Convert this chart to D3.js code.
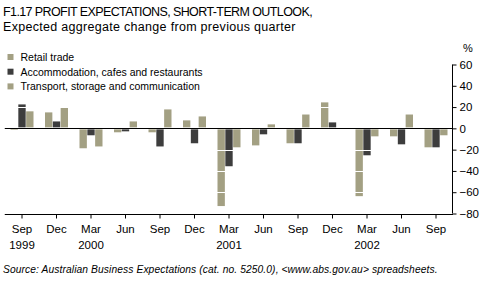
<!DOCTYPE html>
<html><head><meta charset="utf-8">
<script src="https://cdn.jsdelivr.net/npm/d3@7"></script>
<style>body{margin:0;background:#fff}svg{display:block}text{font-family:"Liberation Sans",Arial,sans-serif}</style>
</head><body><svg id="c" width="496" height="284"></svg>
<script>
const quarters = ["Sep","Dec","Mar","Jun","Sep","Dec","Mar","Jun","Sep","Dec","Mar","Jun","Sep"];
const years = ["1999","","2000","","","","2001","","","","2002","",""];
const seriesNames = ["Retail trade","Accommodation, cafes and restaurants","Transport, storage and communication"];
const retail =    [-1.5, 15, -18.7, -3.7, -3.7, 7.5, -73, -16, -14, 24.4, -63.7, -7.5, -17.8];
const accomm =    [22.5, 6.5, -6.5, -2.8, -17, -14, -35.6, -5.6, -14, 5.6, -25.3, -15, -17.8];
const transport = [16, 19.7, -17, 6.5, 17.8, 11.2, -17.8, 3.75, 13, 0, -7.5, 13, -6.5];
const yTicks = [60,40,20,0,-20,-40,-60,-80];
const colors = ["#a3a083","#3d3d3d","#a3a083"];

const svg = d3.select("#c");
const series = [retail, accomm, transport];
const idx = d3.range(quarters.length);
const x0 = d3.scaleBand().domain(idx).range([4.75, 453.25]);
const x1 = d3.scaleBand().domain([0,1,2]).range([-11.5, 11.5]).paddingInner(0.06);
const y = d3.scaleLinear().domain([-80, 60]).range([213.5, 64.5]);
const cx = i => x0(i) + x0.bandwidth()/2;

// bars
series.forEach((vals,k)=>{
  svg.append("g").selectAll("rect").data(vals).join("rect")
    .attr("x",(d,i)=>cx(i)+x1(k))
    .attr("width",x1.bandwidth())
    .attr("y",d=> d>=0 ? y(d) : y(0)+1)
    .attr("height",d=> Math.max(0, d>=0 ? y(0)-y(d)-1 : y(d)-y(0)-1))
    .attr("fill",colors[k]);
});

// white gridlines over bars
svg.append("g").selectAll("line").data([40,20,-20,-40,-60]).join("line")
  .attr("x1",4.75).attr("x2",453).attr("y1",d=>Math.round(y(d))+0.5).attr("y2",d=>Math.round(y(d))+0.5)
  .attr("stroke","#fff").attr("stroke-width",1);

// zero line
svg.append("line").attr("x1",4.75).attr("x2",453).attr("y1",Math.round(y(0))+0.5).attr("y2",Math.round(y(0))+0.5).attr("stroke","#000");

// title
svg.append("text").attr("x",3).attr("y",16).attr("font-size",12.5).attr("letter-spacing",-0.6).text("F1.17 PROFIT EXPECTATIONS, SHORT-TERM OUTLOOK,");
svg.append("text").attr("x",3).attr("y",31).attr("font-size",12.5).attr("letter-spacing",0.3).text("Expected aggregate change from previous quarter");

// legend
seriesNames.forEach((n,k)=>{
  const ly = 57.5 + k*14.7;
  svg.append("rect").attr("x",7.5).attr("y",ly-3.5).attr("width",6).attr("height",6).attr("fill",colors[k]);
  svg.append("text").attr("x",20.5).attr("y",ly+3.5).attr("font-size",10.5).attr("letter-spacing",0).text(n);
});

// right axis
const yAxis = d3.axisRight(y).tickValues(yTicks).tickSize(4).tickPadding(3).tickFormat(d=>d<0?"\u2212"+Math.abs(d):d);
const ga = svg.append("g").attr("transform","translate(452.5,0)").call(yAxis);
ga.select(".domain").attr("d","M0,"+y(60)+"V"+y(-80)).attr("stroke","#000");
ga.selectAll("text").attr("font-size",11.5).attr("font-family","Liberation Sans, Arial, sans-serif").attr("fill","#000");
ga.selectAll("line").attr("stroke","#000");
svg.append("text").attr("x",463).attr("y",52).attr("font-size",11).text("%");

// x axis
const xAxis = d3.axisBottom(x0).tickSize(4).tickFormat("");
const gx = svg.append("g").attr("transform","translate(0,"+(Math.round(y(-80))+0.5)+")").call(xAxis);
gx.select(".domain").attr("d","M4.75,0H453").attr("stroke","#000");
gx.selectAll("line").attr("stroke","#000");
idx.forEach(i=>{
  svg.append("text").attr("x",cx(i)).attr("y",233).attr("text-anchor","middle").attr("font-size",11.5).text(quarters[i]);
  if(years[i]) svg.append("text").attr("x",cx(i)).attr("y",249).attr("text-anchor","middle").attr("font-size",11.5).text(years[i]);
});

// source
svg.append("text").attr("x",3).attr("y",273).attr("font-size",10.25).attr("font-style","italic").attr("letter-spacing",0.1)
  .text("Source: Australian Business Expectations (cat. no. 5250.0), <www.abs.gov.au> spreadsheets.");
</script></body></html>
